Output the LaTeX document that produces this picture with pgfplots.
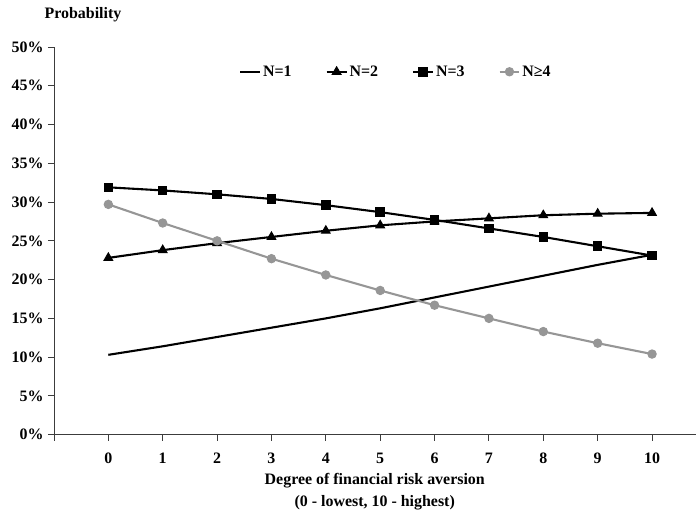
\documentclass[border=0pt]{standalone}
\usepackage{fontspec}
\setmainfont{Liberation Serif}
\usepackage{pgfplots}
\pgfplotsset{compat=1.18}
\definecolor{grayline}{RGB}{150,150,150}
\definecolor{axisgray}{RGB}{60,60,60}
\begin{document}
\begin{tikzpicture}
\begin{axis}[name=ax, scale only axis, width=642bp, height=388bp,
  xmin=-1, xmax=10.8, ymin=0, ymax=50,
  axis x line=bottom, axis y line=left,
  axis line style={-, draw=axisgray, line width=0.9pt},
  xtick={0,...,10}, extra x ticks={-1}, extra x tick labels={},
  ytick={0,5,...,50},
  yticklabel={\pgfmathprintnumber{\tick}\%},
  /pgf/number format/assume math mode=true,
  tick align=outside, major tick length=6bp,
  tick style={draw=axisgray, line width=0.9pt},
  ticklabel style={font=\bfseries\fontsize{16}{18}\selectfont},
  xticklabel style={yshift=-9bp},
  yticklabel style={xshift=-1bp},
  xlabel={Degree of financial risk aversion\\(0 - lowest, 10 - highest)},
  xlabel style={font=\bfseries\fontsize{16}{22}\selectfont, align=center, at={(axis description cs:0.5,0)}, anchor=north, yshift=-35bp},
  legend columns=4,
  legend style={at={(0.533,0.936)}, anchor=center, draw=none, fill=none,
    font=\bfseries\fontsize{16}{18}\selectfont, inner sep=0pt,
    /tikz/every even column/.append style={column sep=32bp}},
  legend image code/.code={\draw[mark repeat=2,mark phase=2,#1] plot coordinates {(0cm,0cm) (0.35cm,0cm) (0.7cm,0cm)};},
]
\addplot[black, line width=2.1pt, no marks] coordinates {
(0,10.3) (1,11.4) (2,12.6) (3,13.8) (4,15.0) (5,16.3) (6,17.7) (7,19.1) (8,20.5) (9,21.9) (10,23.2)};
\addlegendentry{N=1}
\addplot[black, line width=2.1pt, mark=triangle*, mark size=5pt, mark options={solid, line width=1pt}] coordinates {
(0,22.8) (1,23.8) (2,24.7) (3,25.5) (4,26.3) (5,27.0) (6,27.5) (7,27.9) (8,28.3) (9,28.5) (10,28.6)};
\addlegendentry{N=2}
\addplot[black, line width=2.1pt, mark=square*, mark size=4.3pt, mark options={solid, line width=1pt}] coordinates {
(0,31.9) (1,31.5) (2,31.0) (3,30.4) (4,29.6) (5,28.7) (6,27.7) (7,26.6) (8,25.5) (9,24.3) (10,23.1)};
\addlegendentry{N=3}
\addplot[grayline, line width=2.1pt, mark=*, mark size=4.2pt, mark options={solid, fill=grayline, draw=grayline, line width=1pt}] coordinates {
(0,29.7) (1,27.3) (2,25.0) (3,22.7) (4,20.6) (5,18.6) (6,16.7) (7,15.0) (8,13.3) (9,11.8) (10,10.4)};
\addlegendentry{N≥4}
\end{axis}
\node[font=\bfseries\fontsize{16}{18}\selectfont] at ([shift={(29bp,32bp)}]ax.north west) {Probability};
\path ([shift={(-54bp,-77bp)}]ax.south west) rectangle ([shift={(0bp,47bp)}]ax.north east);
\end{tikzpicture}
\end{document}
